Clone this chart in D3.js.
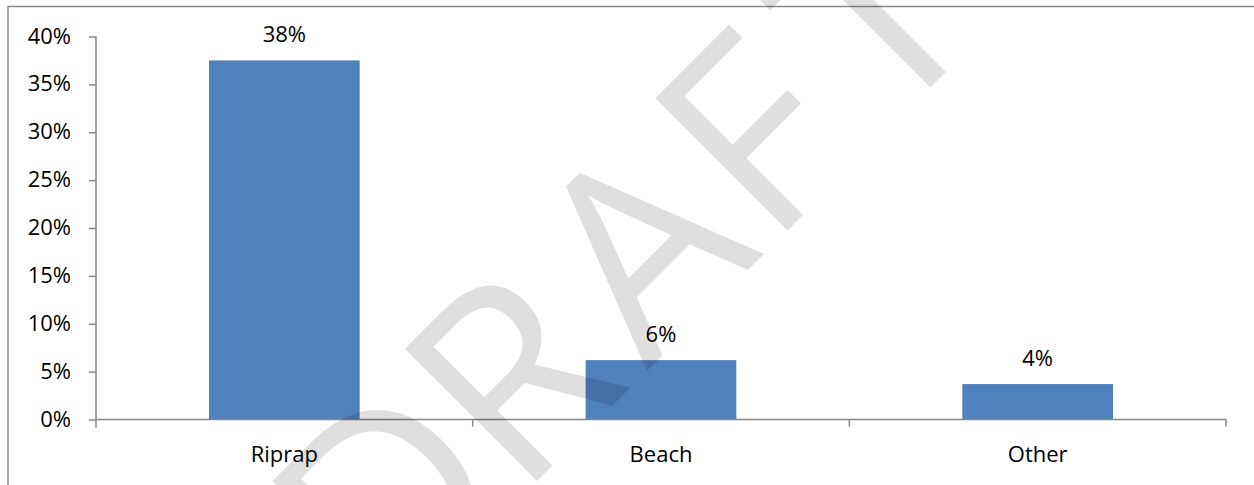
<!DOCTYPE html>
<html>
<head>
<meta charset="utf-8">
<script src="https://cdn.jsdelivr.net/npm/d3@7"></script>
<style>
  html, body { margin: 0; padding: 0; background: #fff; }
  svg { display: block; }
  text { font-family: "Open Sans", "Liberation Sans", sans-serif; }
</style>
</head>
<body>
<svg id="chart" width="1254" height="485"></svg>
<script>
// ---- data ----
const categories = ["Riprap", "Beach", "Other"];
const values = [0.375, 0.062, 0.037];
const yTicks = [0, 0.05, 0.10, 0.15, 0.20, 0.25, 0.30, 0.35, 0.40];
const watermarkLetters = ["D", "R", "A", "F", "T"];

// ---- layout ----
const W = 1254, H = 485;
const svg = d3.select("#chart");
const plot = { left: 96, right: 1226, top: 36.5, bottom: 419.5 };
const axisColor = "#868686";
const barColor = "#4F81BD";
const fontSize = 22;

// chart border (extends beyond the visible area right and bottom)
svg.append("path")
  .attr("d", `M8,${H + 5} L8,6.5 L${W + 5},6.5`)
  .attr("fill", "none")
  .attr("stroke", "#8a8a8a")
  .attr("stroke-width", 1.5);

const x = d3.scaleBand()
  .domain(categories)
  .range([plot.left, plot.right])
  .paddingInner(0.6)
  .paddingOuter(0.3);

const y = d3.scaleLinear()
  .domain([0, 0.4])
  .range([plot.bottom, plot.top]);

// bars
svg.append("g").selectAll("rect")
  .data(categories)
  .join("rect")
  .attr("x", d => x(d))
  .attr("width", x.bandwidth())
  .attr("y", (d, i) => y(values[i]))
  .attr("height", (d, i) => y(0) - y(values[i]))
  .attr("fill", barColor);

// value labels
svg.append("g").selectAll("text")
  .data(categories)
  .join("text")
  .attr("x", d => x(d) + x.bandwidth() / 2)
  .attr("y", (d, i) => y(values[i]) - 18)
  .attr("text-anchor", "middle")
  .attr("font-size", fontSize)
  .attr("fill", "#000")
  .text((d, i) => d3.format(".0%")(values[i]));

// y axis
const yAxis = svg.append("g")
  .attr("transform", `translate(${plot.left},0)`)
  .call(d3.axisLeft(y).tickValues(yTicks).tickFormat(d3.format(".0%")).tickSize(7).tickPadding(18).tickSizeOuter(0));
yAxis.select(".domain").attr("stroke", axisColor).attr("stroke-width", 1.5)
  .attr("d", `M0,${y(0.4)} L0,${plot.bottom + 8}`);
yAxis.selectAll(".tick line").attr("stroke", axisColor).attr("stroke-width", 1.5);
yAxis.selectAll(".tick text").attr("font-size", fontSize).attr("fill", "#000")
  .attr("font-family", "Open Sans, sans-serif").attr("dy", "0.3em");

// x axis (labels at band centers, ticks at band boundaries)
const xAxis = svg.append("g")
  .attr("transform", `translate(0,${plot.bottom})`)
  .call(d3.axisBottom(x).tickSize(0).tickPadding(27).tickSizeOuter(0));
xAxis.select(".domain").attr("stroke", axisColor).attr("stroke-width", 1.5)
  .attr("d", `M${plot.left},0 L${plot.right},0`);
xAxis.selectAll(".tick text").attr("font-size", fontSize).attr("fill", "#000")
  .attr("font-family", "Open Sans, sans-serif");
const step = x.step();
const boundaries = d3.range(categories.length + 1).map(i => plot.left + i * step);
xAxis.append("g").selectAll("line")
  .data(boundaries.slice(1))
  .join("line")
  .attr("x1", d => d).attr("x2", d => d)
  .attr("y1", 0).attr("y2", 7)
  .attr("stroke", axisColor).attr("stroke-width", 1.5);

// DRAFT watermark
const letterU = [-78, 95, 278, 436, 607];
const wm = svg.append("g")
  .attr("transform", "translate(509,509) rotate(-45)")
  .attr("opacity", 0.12);
wm.selectAll("text")
  .data(watermarkLetters)
  .join("text")
  .attr("x", (d, i) => letterU[i])
  .attr("y", 0)
  .attr("text-anchor", "middle")
  .attr("font-size", 262)
  .attr("font-family", "Open Sans, sans-serif")
  .attr("fill", "#000")
  .text(d => d);
</script>
</body>
</html>
